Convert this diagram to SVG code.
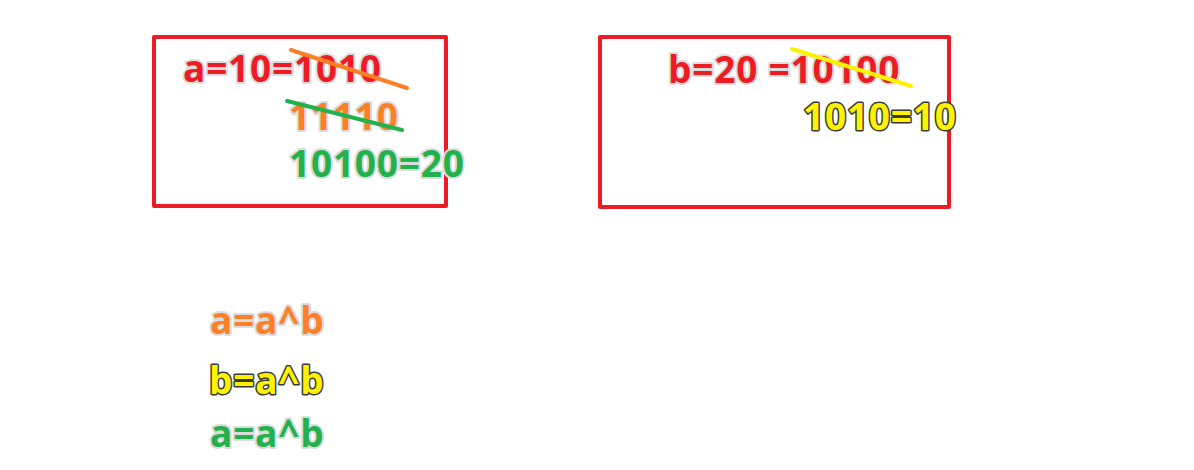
<svg xmlns="http://www.w3.org/2000/svg" width="1194" height="470" viewBox="0 0 1194 470">
<style>
.box{fill:none;stroke:#ed1c24;stroke-width:4;stroke-linejoin:round}
.t{font-family:"Open Sans","Noto Sans","DejaVu Sans",sans-serif;font-weight:bold;font-size:37px;letter-spacing:0.8px;paint-order:stroke;stroke:#dcdcdc;stroke-width:4;stroke-linejoin:round}
.red{fill:#ed1c24}.org{fill:#ff7f27}.grn{fill:#22b14c}
.yel{fill:#fff200;stroke:#3a3a3a;stroke-width:3}
.strike{stroke-width:4;stroke-linecap:round}
</style>
<rect width="1194" height="470" fill="#ffffff"/>
<g id="box-a">
<rect class="box" x="154" y="37" width="292" height="169"/>
<text class="t red" x="183" y="82">a=10=1010</text>
<text class="t org" x="289" y="130">11110</text>
<text class="t grn" x="289" y="177">10100=20</text>
</g>
<g id="box-b">
<rect class="box" x="600" y="37" width="349" height="170"/>
<text class="t red" x="668" y="83">b=20 =10100</text>
<text class="t yel" x="803" y="130">1010=10</text>
</g>
<g id="strikes">
<line class="strike" x1="291" y1="50" x2="407" y2="88" stroke="#ff7f27"/>
<line class="strike" x1="287" y1="101" x2="402" y2="130" stroke="#22b14c"/>
<line class="strike" x1="792" y1="49" x2="911" y2="86" stroke="#fff200"/>
</g>
<g id="steps">
<text class="t org" x="210" y="334">a=a^b</text>
<text class="t yel" x="209" y="394">b=a^b</text>
<text class="t grn" x="210" y="447">a=a^b</text>
</g>
</svg>
